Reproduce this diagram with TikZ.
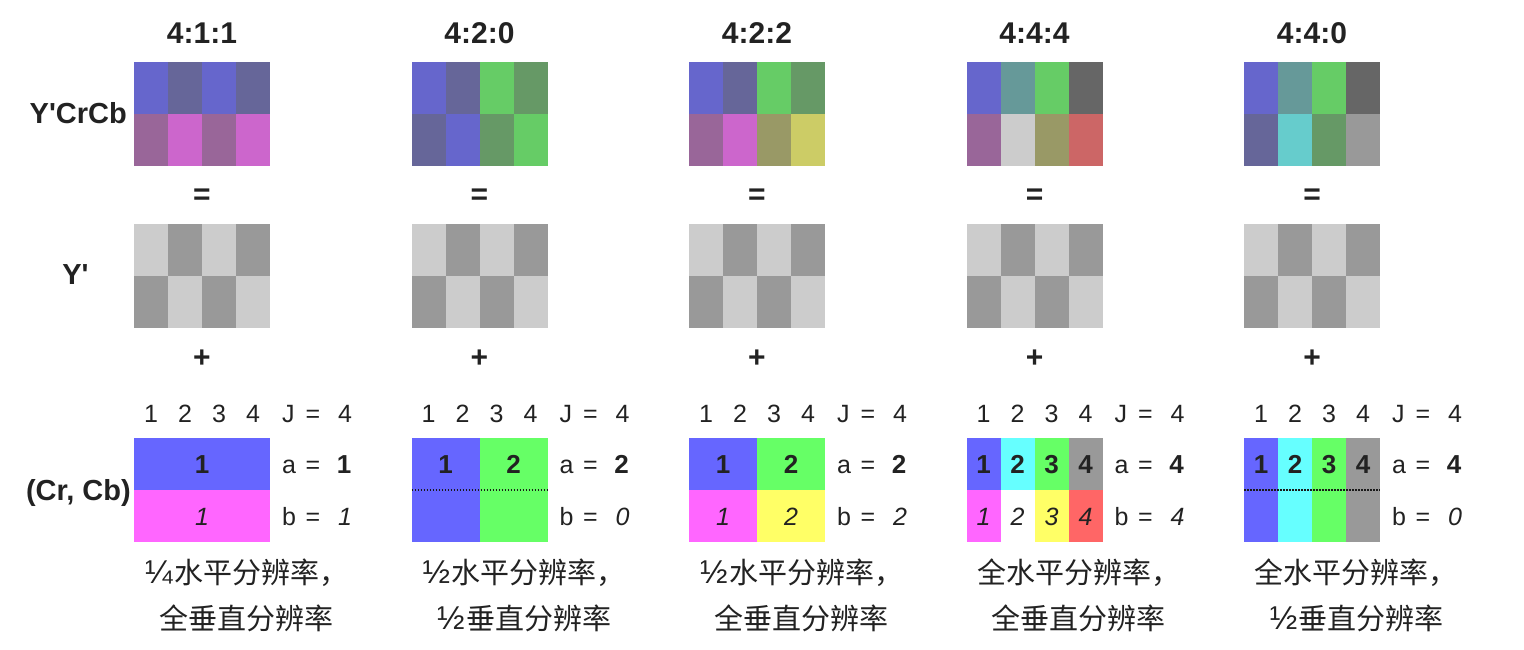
\documentclass[tikz,border=0pt]{standalone}
\usepackage{fontspec}
\setmainfont{Liberation Sans}
\newfontfamily\cjk{Noto Sans CJK SC}
\newfontfamily\latinf{Liberation Sans}
\definecolor{tc}{HTML}{222222}
% Y'CrCb mixes
\definecolor{xyb}{HTML}{6666CC}
\definecolor{xdb}{HTML}{666699}
\definecolor{xdm}{HTML}{996699}
\definecolor{xlm}{HTML}{CC66CC}
\definecolor{xlg}{HTML}{66CC66}
\definecolor{xdg}{HTML}{669966}
\definecolor{xdy}{HTML}{999966}
\definecolor{xly}{HTML}{CCCC66}
\definecolor{xdc}{HTML}{669999}
\definecolor{xlw}{HTML}{CCCCCC}
\definecolor{xdd}{HTML}{666666}
\definecolor{xlr}{HTML}{CC6666}
\definecolor{xlc}{HTML}{66CCCC}
\definecolor{xg9}{HTML}{999999}
% chroma
\definecolor{kb}{HTML}{6666FF}
\definecolor{km}{HTML}{FF66FF}
\definecolor{kg}{HTML}{66FF66}
\definecolor{ky}{HTML}{FFFF66}
\definecolor{kc}{HTML}{66FFFF}
\definecolor{kr}{HTML}{FF6666}
\newcommand\frc[1]{\makebox[30pt][c]{\latinf\fontsize{33}{33}\selectfont #1}}
\newcommand\sq{\textquotesingle}
\begin{document}
\begin{tikzpicture}[x=1pt,y=-1pt,
  title/.style={font={\fontsize{30}{36}\selectfont\bfseries}, text=tc, inner sep=0pt},
  lab/.style={font={\fontsize{29}{35}\selectfont\bfseries}, text=tc, inner sep=0pt},
  num/.style={font={\fontsize{25}{30}\selectfont}, text=tc, inner sep=0pt, anchor=base},
  bnum/.style={font={\fontsize{26}{30}\selectfont\bfseries}, text=tc, inner sep=0pt, anchor=base},
  inum/.style={font={\fontsize{25}{30}\selectfont\itshape}, text=tc, inner sep=0pt, anchor=base},
  capt/.style={font={\cjk\fontsize{29}{34}\selectfont}, text=tc, inner sep=0pt},
  dotline/.style={line width=1.5pt, dash pattern=on 1.5pt off 1.5pt, black!90}]
\useasboundingbox (0,0) rectangle (1524,650);

% row labels
\node[lab, anchor=east] (lyc) at (127,113) {Y\sq CrCb};
\node[lab] (ly) at (75.5,275) {Y\sq};
\node[lab, anchor=east] (lcc) at (131,493) {(Cr, Cb)};

% common parts of each group
\foreach \i/\t/\top/\bot/\av/\bv in {
  0/4:1:1/{xyb,xdb,xyb,xdb}/{xdm,xlm,xdm,xlm}/1/1,
  1/4:2:0/{xyb,xdb,xlg,xdg}/{xdb,xyb,xdg,xlg}/2/0,
  2/4:2:2/{xyb,xdb,xlg,xdg}/{xdm,xlm,xdy,xly}/2/2,
  3/4:4:4/{xyb,xdc,xlg,xdd}/{xdm,xlw,xdy,xlr}/4/4,
  4/4:4:0/{xyb,xdc,xlg,xdd}/{xdb,xlc,xdg,xg9}/4/0}{
  \pgfmathsetmacro\L{134+277.5*\i}
  \node[title] (t\i) at (\L+68,33) {\t};
  \foreach \c [count=\k from 0] in \top {\fill[\c] (\L+34*\k,62) rectangle +(34,52);}
  \foreach \c [count=\k from 0] in \bot {\fill[\c] (\L+34*\k,114) rectangle +(34,52);}
  \node[title] (eq\i) at (\L+68,197) {=};
  \foreach \c [count=\k from 0] in {xlw,xg9,xlw,xg9} {\fill[\c] (\L+34*\k,224) rectangle +(34,52);}
  \foreach \c [count=\k from 0] in {xg9,xlw,xg9,xlw} {\fill[\c] (\L+34*\k,276) rectangle +(34,52);}
  \node[title] (pl\i) at (\L+68,359) {+};
  \foreach \d in {1,2,3,4} {\node[num] (h\i\d) at (\L+17+34*\d-34,422) {\d};}
  \node[num, anchor=base west] (j\i) at (\L+148,422) {J};
  \node[num] (je\i) at (\L+179,422) {=};
  \node[num] (jv\i) at (\L+211,422) {4};
  \node[num, anchor=base west] (a\i) at (\L+148,473) {a};
  \node[num] (ae\i) at (\L+179,473) {=};
  \node[bnum] (av\i) at (\L+210,473) {\av};
  \node[num, anchor=base west] (b\i) at (\L+148,525) {b};
  \node[num] (be\i) at (\L+179,525) {=};
  \node[inum] (bv\i) at (\L+211,525) {\bv};
}

% chroma blocks
% 4:1:1
\fill[kb] (134,438) rectangle +(136,52);
\fill[km] (134,490) rectangle +(136,52);
\node[bnum] (c0a) at (202,473) {1};
\node[inum] (c0b) at (202,525) {1};
% 4:2:0
\fill[kb] (411.5,438) rectangle +(68,104);
\fill[kg] (479.5,438) rectangle +(68,104);
\coordinate (d1l) at (411.5,490);
\coordinate (d1r) at (547.5,490);
\draw[dotline] (d1l) -- (d1r);
\node[bnum] (c1a) at (445.5,473) {1};
\node[bnum] (c1b) at (513.5,473) {2};
% 4:2:2
\fill[kb] (689,438) rectangle +(68,52);
\fill[kg] (757,438) rectangle +(68,52);
\fill[km] (689,490) rectangle +(68,52);
\fill[ky] (757,490) rectangle +(68,52);
\node[bnum] (c2a) at (723,473) {1};
\node[bnum] (c2b) at (791,473) {2};
\node[inum] (c2c) at (723,525) {1};
\node[inum] (c2d) at (791,525) {2};
% 4:4:4
\foreach \c [count=\k from 0] in {kb,kc,kg,xg9} {\fill[\c] (966.5+34*\k,438) rectangle +(34,52);}
\foreach \c [count=\k from 0] in {km,white,ky,kr} {\fill[\c] (966.5+34*\k,490) rectangle +(34,52);}
\foreach \d in {1,2,3,4} {
  \node[bnum] (c3a\d) at (966.5+17+34*\d-34,473) {\d};
  \node[inum] (c3b\d) at (966.5+17+34*\d-34,525) {\d};
}
% 4:4:0
\foreach \c [count=\k from 0] in {kb,kc,kg,xg9} {\fill[\c] (1244+34*\k,438) rectangle +(34,104);}
\coordinate (d4l) at (1244,490);
\coordinate (d4r) at (1380,490);
\draw[dotline] (d4l) -- (d4r);
\foreach \d in {1,2,3,4} {
  \node[bnum] (c4a\d) at (1244+17+34*\d-34,473) {\d};
}

% captions
\node[capt] (p0a) at (246,573) {\frc{¼}水平分辨率，};
\node[capt] (p0b) at (246,618) {全垂直分辨率};
\node[capt] (p1a) at (523.5,573) {\frc{½}水平分辨率，};
\node[capt] (p1b) at (523.5,618) {\frc{½}垂直分辨率};
\node[capt] (p2a) at (801,573) {\frc{½}水平分辨率，};
\node[capt] (p2b) at (801,618) {全垂直分辨率};
\node[capt] (p3a) at (1078.5,573) {全水平分辨率，};
\node[capt] (p3b) at (1078.5,618) {全垂直分辨率};
\node[capt] (p4a) at (1356,573) {全水平分辨率，};
\node[capt] (p4b) at (1356,618) {\frc{½}垂直分辨率};
\end{tikzpicture}
\end{document}
